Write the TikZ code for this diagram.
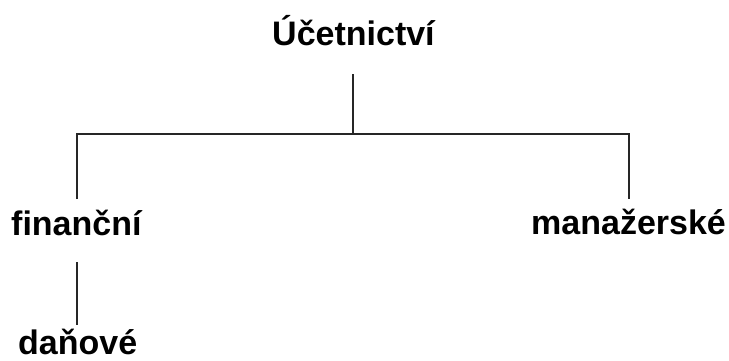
\documentclass[tikz,border=0pt]{standalone}
\usepackage{fontspec}
\setmainfont{Liberation Sans}
\begin{document}
\begin{tikzpicture}[x=1pt,y=-1pt,
  lbl/.style={anchor=base west,inner sep=0pt,font=\fontsize{34}{40}\selectfont\bfseries},
  conn/.style={line width=1.3pt,draw=black!85}]
\useasboundingbox (0,0) rectangle (729,360);
% labels
\node[lbl] (root) at (272,45) {Účetnictví};
\node[lbl] (fin) at (11,235) {finanční};
\node[lbl] (man) at (531,234) {manažerské};
\node[lbl] (dan) at (18,354) {daňové};
% junction points of the tree
\coordinate (rtop) at (353,74);
\coordinate (rj) at (353,134);
\coordinate (lj) at (77,134);
\coordinate (lb) at (77,199);
\coordinate (mj) at (629,134);
\coordinate (mb) at (629,199);
\coordinate (ft) at (77,262);
\coordinate (fb) at (77,325);
% connectors
\draw[conn] (rtop) -- (rj);
\draw[conn] (lb) -- (lj) -- (mj) -- (mb);
\draw[conn] (ft) -- (fb);
\end{tikzpicture}
\end{document}
